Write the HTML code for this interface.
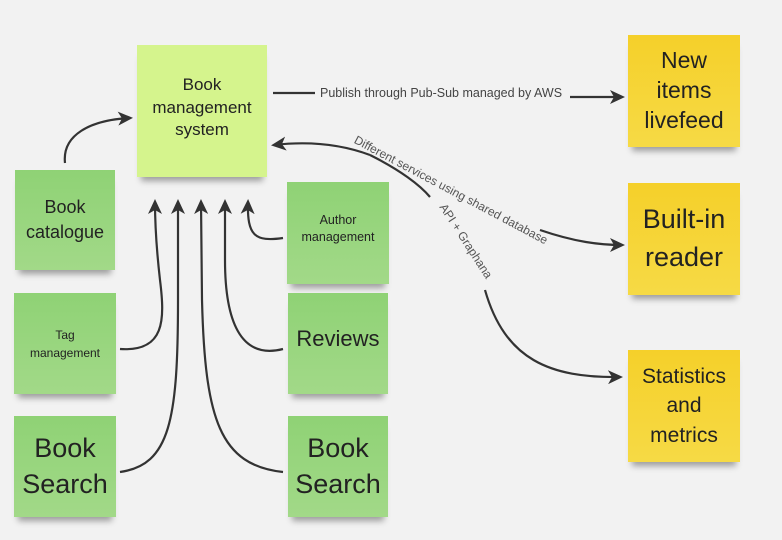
<!DOCTYPE html>
<html><head><style>
body{margin:0;width:782px;height:540px;background:#f2f2f2;overflow:hidden;font-family:"Liberation Sans",sans-serif;position:relative}
.n{position:absolute;display:flex;align-items:center;justify-content:center;text-align:center;color:#222;box-shadow:0 8px 6px -4px rgba(0,0,0,.35);line-height:1.2}
.g{background:linear-gradient(#8fd275,#a2d988)}
.y{background:linear-gradient(#f5d02a,#f6da45)}
svg{position:absolute;left:0;top:0}
</style></head><body>
<div class="n" style="left:137px;top:45px;width:130px;height:132px;background:#d5f48d;font-size:17px;line-height:1.35;padding-bottom:6px;box-sizing:border-box">Book<br>management<br>system</div>
<div class="n g" style="left:15px;top:170px;width:100px;height:100px;font-size:18px;line-height:1.4">Book<br>catalogue</div>
<div class="n g" style="left:14px;top:293px;width:102px;height:101px;font-size:12px;line-height:1.5">Tag<br>management</div>
<div class="n g" style="left:14px;top:416px;width:102px;height:101px;font-size:27px;line-height:1.3">Book<br>Search</div>
<div class="n g" style="left:287px;top:182px;width:102px;height:102px;font-size:12.5px;padding-bottom:8px;box-sizing:border-box;line-height:1.4">Author<br>management</div>
<div class="n g" style="left:288px;top:293px;width:100px;height:101px;font-size:22px;padding-bottom:8px;box-sizing:border-box">Reviews</div>
<div class="n g" style="left:288px;top:416px;width:100px;height:101px;font-size:27px;line-height:1.3">Book<br>Search</div>
<div class="n y" style="left:628px;top:35px;width:112px;height:112px;font-size:23px;line-height:1.3">New<br>items<br>livefeed</div>
<div class="n y" style="left:628px;top:183px;width:112px;height:112px;font-size:27px;line-height:1.4">Built-in<br>reader</div>
<div class="n y" style="left:628px;top:350px;width:112px;height:112px;font-size:21px;line-height:1.4">Statistics<br>and<br>metrics</div>
<svg width="782" height="540" fill="none" stroke="#333" stroke-width="2.2">
<defs>
<marker id="b" markerWidth="16" markerHeight="14" refX="12" refY="7" orient="auto" markerUnits="userSpaceOnUse"><path d="M0,0L15,7L0,14L4,7Z" fill="#333" stroke="none"/></marker></defs>
<path d="M65,163 C62,135 90,120 130,118" marker-end="url(#b)"/>
<path d="M120,349 C165,352 165,320 160,280 C156,245 155,225 155,202" marker-end="url(#b)"/>
<path d="M120,472 C170,465 178,420 178,300 L178,202" marker-end="url(#b)"/>
<path d="M283,472 C220,465 205,420 202,300 L201,202" marker-end="url(#b)"/>
<path d="M283,349 C240,360 225,320 225,260 L225,202" marker-end="url(#b)"/>
<path d="M283,238 C255,242 247,236 248,202" marker-end="url(#b)"/>
<path d="M273,93 H315"/>
<path d="M570,97 H622" marker-end="url(#b)"/>
<path d="M540,230 C575,242 600,245 622,245" marker-end="url(#b)"/>
<path d="M370,155 C335,142 300,142 274,145" marker-end="url(#b)"/>
<path d="M370,155 C400,170 420,185 430,197"/>
<path d="M485,290 C505,360 550,378 620,377" marker-end="url(#b)"/>
</svg>
<div style="position:absolute;left:320px;top:86px;font-size:12.5px;color:#444">Publish through Pub-Sub managed by AWS</div>
<div style="position:absolute;left:451px;top:190px;width:0;height:0"><div style="position:absolute;transform:translate(-50%,-50%) rotate(28deg);white-space:nowrap;font-size:12px;color:#555">Different services using shared database</div></div>
<div style="position:absolute;left:466px;top:241px;width:0;height:0"><div style="position:absolute;transform:translate(-50%,-50%) rotate(57deg);white-space:nowrap;font-size:12px;color:#555">API + Graphana</div></div>
</body></html>
